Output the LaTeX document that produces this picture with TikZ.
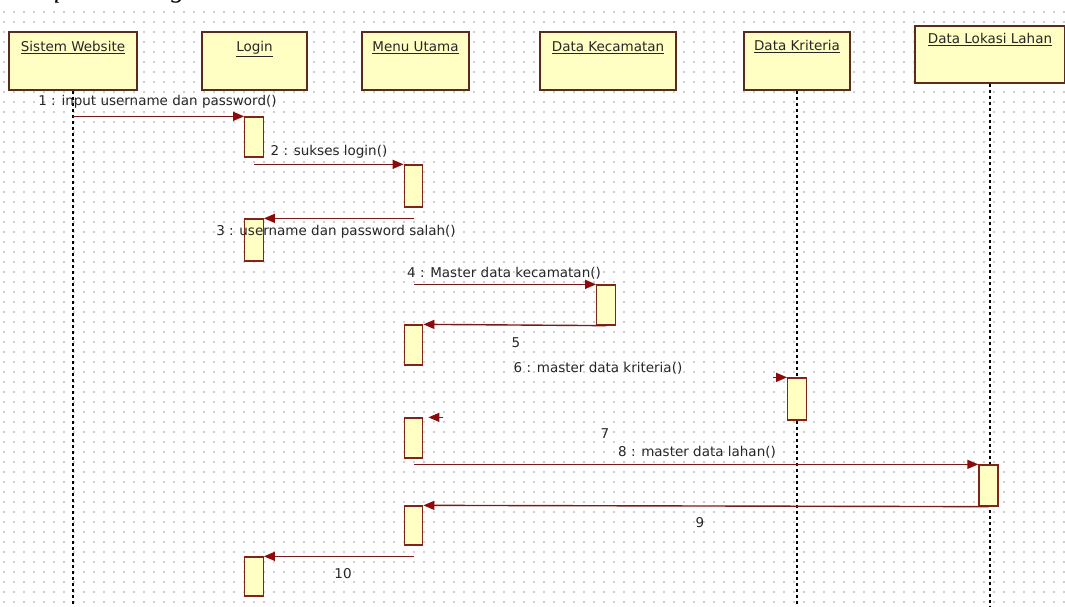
\documentclass[tikz,border=0pt]{standalone}
\usepackage{fontspec}
\setmainfont{DejaVu Sans}
\newfontfamily\capfont{Liberation Serif}
\usetikzlibrary{arrows.meta}
\definecolor{boxfill}{HTML}{FFFFC4}
\definecolor{boxline}{HTML}{5A2A1C}
\definecolor{actline}{HTML}{7E2418}
\definecolor{msgline}{HTML}{7A1818}
\definecolor{tipcol}{HTML}{8E0A0A}
\definecolor{dotcol}{HTML}{CFCFCF}
\begin{document}
\begin{tikzpicture}[x=1pt,y=-1pt,
 obj/.style={draw=boxline, fill=boxfill, line width=1.5pt, inner sep=0pt, minimum height=58pt},
 objtext/.style={font=\fontsize{13.5}{15}\selectfont, inner sep=0pt, text=black!85, anchor=base},
 act/.style={draw=actline, fill=boxfill, line width=1.3pt, inner sep=0pt, minimum width=18.5pt},
 life/.style={draw=black, line width=1.8pt, dash pattern=on 3pt off 3pt},
 msg/.style={draw=msgline, line width=1.4pt, -{Triangle[length=11pt,width=9pt,color=tipcol]}},
 lbl/.style={font=\fontsize{13.5}{15}\selectfont, inner sep=0pt, text=black!85, anchor=base}]
\useasboundingbox (0,0) rectangle (1065,607);
\clip (0,0) rectangle (1065,607);
% dotted background grid
\foreach \yy in {12,22,...,602}
  \draw[dotcol, line width=1.5pt, dash pattern=on 1.5pt off 8.5pt] (3,\yy) -- (1065,\yy);
% caption, cut off at the top
\node[font=\capfont\itshape\fontsize{27}{30}\selectfont, anchor=base west, inner sep=0pt] (cap) at (22,-2) {Sequence Diagram};
% objects
\node[obj, minimum width=128pt] (sw) at (73,61) {};
\node[objtext] (swt) at (73,52) {\underline{Sistem Website}};
\node[obj, minimum width=105pt] (lg) at (254.5,61) {};
\node[objtext] (lgt) at (254.5,52) {\underline{Login}};
\node[obj, minimum width=107pt] (mu) at (415.5,61) {};
\node[objtext] (mut) at (415.5,52) {\underline{Menu Utama}};
\node[obj, minimum width=136pt] (kc) at (608,61) {};
\node[objtext] (kct) at (608,52) {\underline{Data Kecamatan}};
\node[obj, minimum width=106pt] (dk) at (797,61) {};
\node[objtext] (dkt) at (797,51) {\underline{Data Kriteria}};
\node[obj, minimum width=150pt, minimum height=57pt] (dl) at (990,54.5) {};
\node[objtext] (dlt) at (990,44) {\underline{Data Lokasi Lahan}};
% lifelines
\coordinate (swend) at (73,607);
\coordinate (dkend) at (797,607);
\coordinate (dlend) at (990,607);
\draw[life] (sw.south) -- (swend);
\draw[life] (dk.south) -- (dkend);
\draw[life] (dl.south) -- (dlend);
% activations
\node[act, minimum height=40pt] (lg1) at (254,137) {};
\node[act, minimum height=42pt] (mu1) at (413.5,186) {};
\node[act, minimum height=42pt] (lg2) at (254,240) {};
\node[act, minimum height=40pt] (kc1) at (606,305) {};
\node[act, minimum height=40pt] (mu2) at (413.5,345) {};
\node[act, minimum height=42pt] (dk1) at (797,399) {};
\node[act, minimum height=40pt] (mu3) at (413.5,438) {};
\node[act, minimum height=41pt, minimum width=19pt] (dl1) at (988.5,485.5) {};
\node[act, minimum height=39pt] (mu4) at (413.5,525.5) {};
\node[act, minimum height=39pt] (lg3) at (254,576.5) {};
% messages
\draw[msg] (sw.south |- lg1.north) -- (lg1.north west);
\draw[msg] (lg1.south |- mu1.north) -- (mu1.north west);
\draw[msg] (mu1.south |- lg2.north) -- (lg2.north east);
\draw[msg] (mu1.south |- kc1.north) -- (kc1.north west);
\draw[msg] (kc1.south) -- (mu2.north east);
\coordinate (m6s) at ([xshift=-14pt]dk1.north west);
\draw[msg] (m6s) -- (dk1.north west);
\coordinate (m7s) at ([xshift=20pt]mu3.north east);
\coordinate (m7e) at ([xshift=5pt]mu3.north east);
\draw[msg] (m7s) -- (m7e);
\draw[msg] (mu3.south |- dl1.north) -- (dl1.north west);
\draw[msg] (dl1.south) -- (mu4.north east);
\draw[msg] (mu4.south |- lg3.north) -- (lg3.north east);
% labels
\node[lbl] (l1) at (157.5,106) {1 : input username dan password()};
\node[lbl] (l2) at (329,156) {2 : sukses login()};
\node[lbl] (l3) at (336,235) {3 : username dan password salah()};
\node[lbl] (l4) at (504,277) {4 : Master data kecamatan()};
\node[lbl] (l5) at (516,347) {5};
\node[lbl] (l6) at (598,372) {6 : master data kriteria()};
\node[lbl] (l7) at (605,438) {7};
\node[lbl] (l8) at (697,456) {8 : master data lahan()};
\node[lbl] (l9) at (700,527) {9};
\node[lbl] (l10) at (343,578) {10};
\end{tikzpicture}
\end{document}
